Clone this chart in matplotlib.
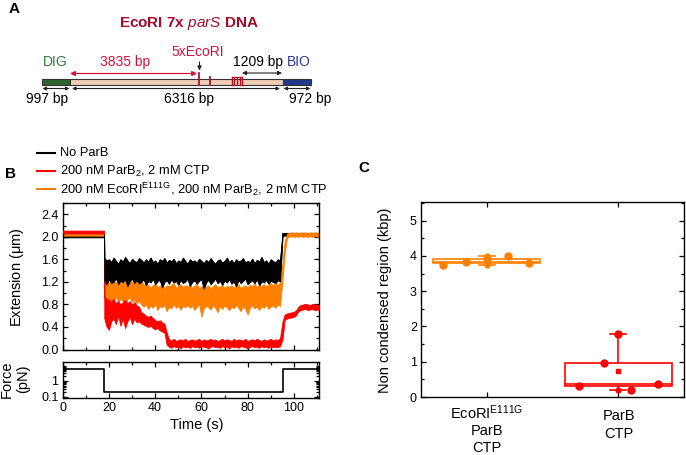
import numpy as np
import matplotlib
matplotlib.use('Agg')
import matplotlib.pyplot as plt
from matplotlib.patches import Rectangle
from matplotlib.ticker import MultipleLocator, FixedLocator, LogLocator, NullFormatter

plt.rcParams['font.family'] = ['Liberation Sans', 'DejaVu Sans']
plt.rcParams['mathtext.fontset'] = 'custom'
plt.rcParams['mathtext.rm'] = 'Liberation Sans'
plt.rcParams['mathtext.it'] = 'Liberation Sans:italic'
plt.rcParams['mathtext.bf'] = 'Liberation Sans:bold'

# ---------------- DATA ----------------
# Panel B: extension traces (envelope low/high of the noisy traces), um
t_pre = [0.0, 17.9]
t_mid = list(range(18, 95))
t_post = [95.1] + list(range(96, 110)) + [111]
t_post_flat = [95.1, 111]

black_pre_lo = [1.99, 1.99]
black_pre_hi = [2.04, 2.04]
black_mid_hi = [1.62, 1.58, 1.60, 1.55, 1.63, 1.57, 1.52, 1.60, 1.56, 1.64, 1.58, 1.53, 1.61, 1.57, 1.55, 1.62, 1.59, 1.54, 1.60, 1.56,
                1.63, 1.55, 1.58, 1.52, 1.60, 1.57, 1.62, 1.54, 1.59, 1.56, 1.61, 1.53, 1.58, 1.55, 1.63, 1.57, 1.52, 1.60, 1.56, 1.58,
                1.54, 1.61, 1.57, 1.53, 1.59, 1.55, 1.62, 1.56, 1.52, 1.58, 1.60, 1.54, 1.57, 1.63, 1.55, 1.59, 1.53, 1.60, 1.56, 1.58,
                1.62, 1.54, 1.57, 1.55, 1.61, 1.53, 1.59, 1.56, 1.64, 1.55, 1.58, 1.52, 1.60, 1.57, 1.54, 1.60, 1.58]
black_mid_lo = [1.22, 1.15, 1.25, 1.18, 1.20, 1.27, 1.16, 1.22, 1.19, 1.24, 1.12, 1.21, 1.26, 1.18, 1.23, 1.17, 1.20, 1.25, 1.14, 1.22,
                1.19, 1.26, 1.16, 1.21, 1.24, 1.10, 1.20, 1.23, 1.17, 1.25, 1.19, 1.22, 1.15, 1.24, 1.18, 1.21, 1.26, 1.13, 1.20, 1.23,
                1.17, 1.22, 1.25, 1.08, 1.19, 1.24, 1.16, 1.21, 1.26, 1.18, 1.22, 1.15, 1.23, 1.19, 1.25, 1.17, 1.21, 1.12, 1.24, 1.18,
                1.22, 1.26, 1.16, 1.20, 1.23, 1.18, 1.25, 1.14, 1.21, 1.19, 1.24, 1.17, 1.22, 1.20, 1.18, 1.23, 1.21]
black_post_lo = [2.02, 2.02]
black_post_hi = [2.07, 2.07]

orange_pre_lo = [2.02, 2.02]
orange_pre_hi = [2.08, 2.08]
orange_mid_hi = [1.26, 1.22, 1.20, 1.24, 1.21, 1.19, 1.23, 1.20, 1.22, 1.18, 1.21, 1.24, 1.19, 1.22, 1.20, 1.17, 1.21,
                 1.16, 1.12, 1.15, 1.10, 1.14, 1.17, 1.11, 1.13, 1.16, 1.09, 1.14, 1.12, 1.15, 1.18, 1.10, 1.13, 1.16, 1.11, 1.14, 1.12,
                 1.15, 1.10, 1.13, 1.17, 1.09, 1.12, 1.15, 1.11, 1.14, 1.08, 1.13, 1.16, 1.10, 1.12, 1.15, 1.09, 1.13, 1.11, 1.14, 1.10,
                 1.13, 1.16, 1.09, 1.12, 1.14, 1.10, 1.15, 1.12, 1.17, 1.11, 1.14, 1.13, 1.16, 1.12, 1.15, 1.18, 1.14, 1.17, 1.15, 1.19]
orange_mid_lo = [0.90, 0.85, 0.92, 0.80, 0.88, 0.93, 0.84, 0.90, 0.86, 0.78, 0.89, 0.92, 0.85, 0.88, 0.82, 0.86, 0.80,
                 0.76, 0.80, 0.72, 0.78, 0.74, 0.81, 0.70, 0.77, 0.75, 0.79, 0.68, 0.76, 0.73, 0.80, 0.74, 0.77, 0.71, 0.78, 0.75, 0.79,
                 0.74, 0.78, 0.70, 0.76, 0.80, 0.58, 0.73, 0.77, 0.75, 0.71, 0.79, 0.74, 0.66, 0.77, 0.72, 0.78, 0.75, 0.70, 0.76, 0.73,
                 0.79, 0.74, 0.68, 0.77, 0.72, 0.62, 0.75, 0.78, 0.73, 0.76, 0.70, 0.77, 0.74, 0.79, 0.72, 0.76, 0.78, 0.74, 0.80, 0.77]
orange_post_hi = [1.55, 1.92, 2.05, 2.07, 2.08, 2.07, 2.08, 2.06, 2.08, 2.07, 2.08, 2.06, 2.08, 2.07, 2.08, 2.07]
orange_post_lo = [1.25, 1.70, 1.98, 2.00, 2.01, 2.00, 2.01, 2.00, 2.01, 2.00, 2.01, 2.00, 2.01, 2.00, 2.01, 2.00]

red_pre_lo = [2.06, 2.06]
red_pre_hi = [2.11, 2.11]
red_mid_hi = [0.95, 0.90, 0.88, 0.85, 0.90, 0.82, 0.86, 0.80, 0.84, 0.88, 0.82, 0.86, 0.80, 0.84, 0.78, 0.76,
              0.66, 0.64, 0.60, 0.58, 0.60, 0.56, 0.52, 0.50, 0.52, 0.48, 0.46,
              0.30,
              0.18, 0.16, 0.19, 0.15, 0.17, 0.18, 0.16, 0.19, 0.15, 0.17,
              0.18, 0.16, 0.17, 0.19, 0.15, 0.18, 0.16, 0.17, 0.19, 0.16,
              0.18, 0.15, 0.17, 0.19, 0.16, 0.18, 0.17, 0.15, 0.19, 0.16,
              0.18, 0.17, 0.16, 0.19, 0.15, 0.17, 0.18, 0.16, 0.19, 0.17,
              0.15, 0.18, 0.16, 0.17, 0.19, 0.16, 0.18, 0.17, 0.20]
red_mid_lo = [0.55, 0.40, 0.35, 0.50, 0.55, 0.45, 0.60, 0.42, 0.55, 0.38, 0.50, 0.58, 0.45, 0.55, 0.48, 0.50,
              0.46, 0.44, 0.42, 0.40, 0.42, 0.38, 0.36, 0.38, 0.34, 0.32, 0.30,
              0.08,
              0.05, 0.03, 0.06, 0.04, 0.05, 0.02, 0.06, 0.04, 0.05, 0.03,
              0.06, 0.04, 0.05, 0.03, 0.06, 0.05, 0.04, 0.02, 0.05, 0.06,
              0.04, 0.05, 0.03, 0.06, 0.04, 0.05, 0.02, 0.06, 0.04, 0.05,
              0.03, 0.06, 0.05, 0.04, 0.02, 0.05, 0.06, 0.04, 0.05, 0.03,
              0.06, 0.04, 0.05, 0.03, 0.06, 0.04, 0.05, 0.04, 0.06]
red_post_hi = [0.50, 0.62, 0.64, 0.65, 0.66, 0.67, 0.70, 0.76, 0.79, 0.80, 0.81, 0.80, 0.79, 0.81, 0.80, 0.79]
red_post_lo = [0.18, 0.52, 0.55, 0.56, 0.57, 0.58, 0.61, 0.68, 0.70, 0.71, 0.72, 0.70, 0.71, 0.72, 0.70, 0.71]

# Force (pN)
force_t = [0.0, 17.9, 95.1, 111.0]
force_v = [5.5, 0.2, 5.5, 5.5]

legend_labels = ['No ParB', r'200 nM ParB$_\mathregular{2}$, 2 mM CTP',
                 r'200 nM EcoRI$^\mathregular{E111G}$, 200 nM ParB$_\mathregular{2}$, 2 mM CTP']

# Panel C: non condensed region (kbp)
c_categories = [r'EcoRI$^\mathregular{E111G}$', 'ParB', 'CTP']
c_categories2 = ['ParB', 'CTP']
ecori_vals = [3.74, 3.83, 3.91, 4.00, 3.80]
parb_vals = [0.30, 0.97, 1.80, 0.21, 0.37]

# styles / positions
offs_orange = [-0.33, -0.16, 0.0, 0.16, 0.32]
offs_red = [-0.30, -0.11, 0.0, 0.10, 0.30]
C_BLACK = '#000000'
C_RED = '#ff0000'
C_ORANGE = '#ff8000'
FS_TICK = 9
FS_LAB = 10.5

W, H = 686, 455
fig = plt.figure(figsize=(W / 100, H / 100), dpi=100)

# overlay axes in pixel coordinates for annotations / diagram
ov = fig.add_axes([0, 0, 1, 1])
ov.set_xlim(0, W)
ov.set_ylim(H, 0)
ov.axis('off')

def fx(px):
    return px / W

def fy(py):
    return 1 - py / H

# ---------------- Panel A ----------------
ov.text(14, 9, 'A', fontsize=11, fontweight='bold', ha='center', va='center')
ov.text(189, 24, r'EcoRI 7x $\mathbf{\mathit{parS}}$ DNA', fontsize=11, fontweight='bold',
        color='#a50a2a', ha='center', va='center')
bar_y0, bar_y1 = 79, 84.5
ov.add_patch(Rectangle((42, bar_y0), 28, bar_y1 - bar_y0, fc='#2e6330', ec='#333333', lw=0.8, zorder=2))
ov.add_patch(Rectangle((70, bar_y0), 213, bar_y1 - bar_y0, fc='#f2cdb6', ec='#333333', lw=0.8, zorder=2))
ov.add_patch(Rectangle((283, bar_y0), 28, bar_y1 - bar_y0, fc='#1f3a8c', ec='#333333', lw=0.8, zorder=2))
mark_c = '#b0102a'
ov.plot([199, 199], [73, 84.5], color=mark_c, lw=1.3, zorder=3)
ov.plot([210, 210], [76.5, 84.5], color=mark_c, lw=1.3, zorder=3)
for xm in [231.5, 234.2, 236.9, 239.6, 242.3]:
    ov.plot([xm, xm], [76.5, 84.5], color=mark_c, lw=1.0, zorder=3)
ov.plot([231.5, 242.3], [76.8, 76.8], color=mark_c, lw=0.8, zorder=3)

red_txt = '#d6103c'
ov.text(55, 62, 'DIG', fontsize=10, color='#2f7a3a', ha='center', va='center')
ov.text(299, 62, 'BIO', fontsize=10, color='#2b3a9a', ha='center', va='center')
ov.text(125, 62, '3835 bp', fontsize=10, color=red_txt, ha='center', va='center')
ov.text(198, 52, '5xEcoRI', fontsize=10, color=red_txt, ha='center', va='center')
ov.text(258, 62, '1209 bp', fontsize=10, color='black', ha='center', va='center')

def darrow(x1, x2, y, color, lw=0.8, ms=6):
    ov.annotate('', xy=(x2, y), xytext=(x1, y),
                arrowprops=dict(arrowstyle='<|-|>', color=color, lw=lw, mutation_scale=ms,
                                shrinkA=0, shrinkB=0))

darrow(70, 197, 73.5, red_txt, lw=0.9, ms=7)
darrow(242, 282, 73, '#222222', lw=0.8, ms=6)
ov.annotate('', xy=(199.5, 70.5), xytext=(199.5, 62),
            arrowprops=dict(arrowstyle='-|>', color='#222222', lw=0.8, mutation_scale=6,
                            shrinkA=0, shrinkB=0))
darrow(42.5, 69.5, 88.5, '#222222', lw=0.8, ms=5)
darrow(72, 280, 88.5, '#222222', lw=0.8, ms=5)
darrow(283.5, 310.5, 88.5, '#222222', lw=0.8, ms=5)
ov.text(47, 99.5, '997 bp', fontsize=10, ha='center', va='center')
ov.text(189, 99.5, '6316 bp', fontsize=10, ha='center', va='center')
ov.text(310, 99.5, '972 bp', fontsize=10, ha='center', va='center')

# ---------------- Panel B ----------------
ov.text(10, 174, 'B', fontsize=11, fontweight='bold', ha='center', va='center')
leg_y = [153, 171, 189]
for yy, col, lab in zip(leg_y, [C_BLACK, C_RED, C_ORANGE], legend_labels):
    ov.plot([37, 55], [yy, yy], color=col, lw=1.5)
    ov.text(60, yy, lab, fontsize=9.3, ha='left', va='center')

L, R = 62.7, 319.3
axB = fig.add_axes([fx(L), fy(349.5), fx(R) - fx(L), fy(203) - fy(349.5)])
axF = fig.add_axes([fx(L), fy(398.3), fx(R) - fx(L), fy(362.3) - fy(398.3)])


def full(pre_t, pre, mid, post_t, post):
    return (np.array(pre_t + t_mid + post_t), np.array(pre + mid + post))


tb, blo = full(t_pre, black_pre_lo, black_mid_lo, t_post_flat, black_post_lo)
_, bhi = full(t_pre, black_pre_hi, black_mid_hi, t_post_flat, black_post_hi)
to, olo = full(t_pre, orange_pre_lo, orange_mid_lo, t_post, orange_post_lo)
_, ohi = full(t_pre, orange_pre_hi, orange_mid_hi, t_post, orange_post_hi)
tr, rlo = full(t_pre, red_pre_lo, red_mid_lo, t_post, red_post_lo)
_, rhi = full(t_pre, red_pre_hi, red_mid_hi, t_post, red_post_hi)

axB.fill_between(tb, blo, bhi, color=C_BLACK, lw=0.6, zorder=1)
axB.fill_between(to, olo, ohi, color=C_ORANGE, lw=0.6, zorder=2)
axB.fill_between(tr, rlo, rhi, color=C_RED, lw=0.6, zorder=3)
# black middle segment drawn on top
sl = slice(1, 1 + len(t_mid) + 2)
axB.fill_between(tb[sl], blo[sl], bhi[sl], color=C_BLACK, lw=0.6, zorder=4)

axB.set_xlim(0, 111)
axB.set_ylim(0, 2.6)
axB.xaxis.set_major_locator(MultipleLocator(20))
axB.xaxis.set_minor_locator(MultipleLocator(10))
axB.yaxis.set_major_locator(MultipleLocator(0.4))
axB.yaxis.set_minor_locator(MultipleLocator(0.2))
axB.set_xticklabels([])
axB.yaxis.set_major_formatter(matplotlib.ticker.FormatStrFormatter('%.1f'))

axF.step(force_t, force_v, where='post', color='black', lw=1.2)
axF.set_yscale('log')
axF.set_ylim(0.08, 15)
axF.set_xlim(0, 111)
axF.yaxis.set_major_locator(FixedLocator([0.1, 1]))
axF.yaxis.set_major_formatter(matplotlib.ticker.FixedFormatter(['0.1', '1']))
axF.yaxis.set_minor_locator(LogLocator(base=10, subs=np.arange(2, 10)))
axF.yaxis.set_minor_formatter(NullFormatter())
axF.xaxis.set_major_locator(MultipleLocator(20))
axF.xaxis.set_minor_locator(MultipleLocator(10))

for ax in (axB, axF):
    ax.tick_params(which='both', direction='in', top=True, right=True, labelsize=FS_TICK,
                   width=0.9, pad=3)
    ax.tick_params(which='major', length=3.5)
    ax.tick_params(which='minor', length=2)
    for s in ax.spines.values():
        s.set_linewidth(1.0)

ov.text(17, 277, r'Extension ($\mathregular{\mu}$m)', fontsize=FS_LAB, rotation=90, ha='center', va='center')
ov.text(15, 379, 'Force\n(pN)', fontsize=FS_LAB, rotation=90, ha='center', va='center',
        linespacing=1.2, multialignment='center')
ov.text(197, 425, 'Time (s)', fontsize=FS_LAB, ha='center', va='center')

# ---------------- Panel C ----------------
ov.text(364, 168, 'C', fontsize=11, fontweight='bold', ha='center', va='center')
axC = fig.add_axes([fx(421), fy(397), fx(684) - fx(421), fy(202) - fy(397)])


def boxplot(ax, x, vals, offs, col):
    v = np.array(vals)
    q1, med, q3 = np.percentile(v, [25, 50, 75])
    hw = 0.405
    ax.add_patch(Rectangle((x - hw, q1), 2 * hw, q3 - q1, fill=False, ec=col, lw=1.2, zorder=2))
    ax.plot([x - hw, x + hw], [med, med], color=col, lw=1.2, zorder=2)
    ax.plot([x, x], [q3, v.max()], color=col, lw=1.2, zorder=2)
    ax.plot([x, x], [v.min(), q1], color=col, lw=1.2, zorder=2)
    cw = 0.06
    for yv in (v.min(), v.max()):
        ax.plot([x - cw, x + cw], [yv, yv], color=col, lw=1.2, zorder=3)
        ax.plot([x], [yv], 'o', color=col, ms=3.5, zorder=3)
    ax.plot([x + o for o in offs], v, 'o', color=col, ms=5, mec=col, zorder=4)
    ax.plot([x], [v.mean()], 's', color=col, ms=3, zorder=4)


boxplot(axC, 1, ecori_vals, offs_orange, C_ORANGE)
boxplot(axC, 2, parb_vals, offs_red, C_RED)
axC.set_xlim(0.5, 2.5)
axC.set_ylim(0, 5.53)
axC.set_xticks([1, 2])
axC.set_xticklabels([])
axC.yaxis.set_major_locator(MultipleLocator(1))
axC.yaxis.set_minor_locator(MultipleLocator(0.5))
axC.tick_params(which='both', direction='in', top=True, right=True, labelsize=FS_TICK, width=0.9, pad=3)
axC.tick_params(which='major', length=3.5)
axC.tick_params(which='minor', length=2)
for s in axC.spines.values():
    s.set_linewidth(1.0)

ov.text(385, 300, 'Non condensed region (kbp)', fontsize=FS_LAB, rotation=90, ha='center', va='center')
for yy, lab in zip([413, 431, 448], c_categories):
    ov.text(487, yy, lab, fontsize=FS_LAB, ha='center', va='center')
for yy, lab in zip([416, 434], c_categories2):
    ov.text(619, yy, lab, fontsize=FS_LAB, ha='center', va='center')

fig.savefig('out.png', dpi=100)
